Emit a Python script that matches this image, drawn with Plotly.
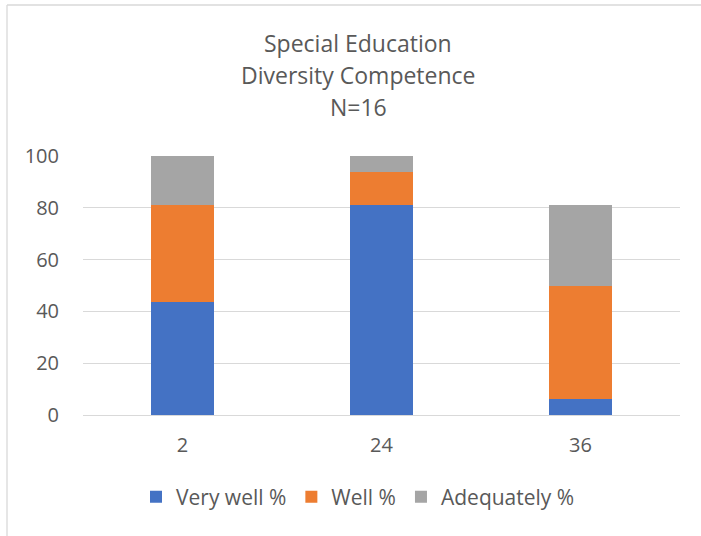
import plotly.graph_objects as go

# Stacked shares of respondents (N=16) per group
groups = ["2", "24", "36"]
very_well = [43.75, 81.25, 6.25]
well = [37.5, 12.5, 43.75]
adequately = [18.75, 6.25, 31.25]

series_names = ["Very well %", "Well %", "Adequately %"]
series_colors = ["#4472C4", "#ED7D31", "#A5A5A5"]
title_lines = ["Special Education", "Diversity Competence", "N=16"]

FONT = "Open Sans, Liberation Sans, sans-serif"
TEXT = "#595959"
GRID = "#D9D9D9"

fig = go.Figure()
for name, vals, color in zip(series_names, [very_well, well, adequately], series_colors):
    fig.add_trace(go.Bar(
        x=groups, y=vals, name=name, width=0.313,
        marker=dict(color=color, line=dict(width=0)),
    ))

W, H = 701, 536
ml, mr, mt, mb = 83, 21, 156, 121
pw = W - ml - mr
ph = H - mt - mb

def px_x(px):
    return (px - ml) / pw

def px_y(py):
    return (H - mb - py) / ph

annotations = []
for i, line in enumerate(title_lines):
    annotations.append(dict(
        text=line, xref="paper", yref="paper",
        x=px_x(358), y=px_y(43 + 32 * i),
        xanchor="center", yanchor="middle", showarrow=False,
        font=dict(family=FONT, size=23, color=TEXT),
    ))

# Chart-area frame: only its left and top edges fall inside the canvas
frame = dict(color="#D9D9D9", width=1.3)
shapes = [
    dict(type="line", xref="paper", yref="paper",
         x0=px_x(7), x1=px_x(7), y0=px_y(H), y1=px_y(5), line=frame, layer="below"),
    dict(type="line", xref="paper", yref="paper",
         x0=px_x(7), x1=px_x(W), y0=px_y(5), y1=px_y(5), line=frame, layer="below"),
]

fig.update_layout(
    width=W, height=H,
    margin=dict(l=ml, r=mr, t=mt, b=mb),
    paper_bgcolor="white", plot_bgcolor="white",
    barmode="stack",
    showlegend=True,
    legend=dict(
        orientation="h", x=px_x(358), xanchor="center",
        y=px_y(497), yanchor="middle",
        font=dict(family=FONT, size=21, color=TEXT),
        itemwidth=30, traceorder="normal",
    ),
    annotations=annotations,
    shapes=shapes,
)

fig.update_xaxes(
    type="category", range=[-0.5, 2.5],
    showline=True, linecolor=GRID, linewidth=1,
    showgrid=False, ticks="", ticklabelstandoff=12,
    tickfont=dict(family=FONT, size=20, color=TEXT),
)
fig.update_yaxes(
    range=[0, 100], dtick=20, tick0=0,
    showgrid=True, gridcolor=GRID, gridwidth=1,
    showline=False, zeroline=False, ticks="",
    ticklabelstandoff=23,
    tickfont=dict(family=FONT, size=20, color=TEXT),
)

fig.write_html("out.html")
